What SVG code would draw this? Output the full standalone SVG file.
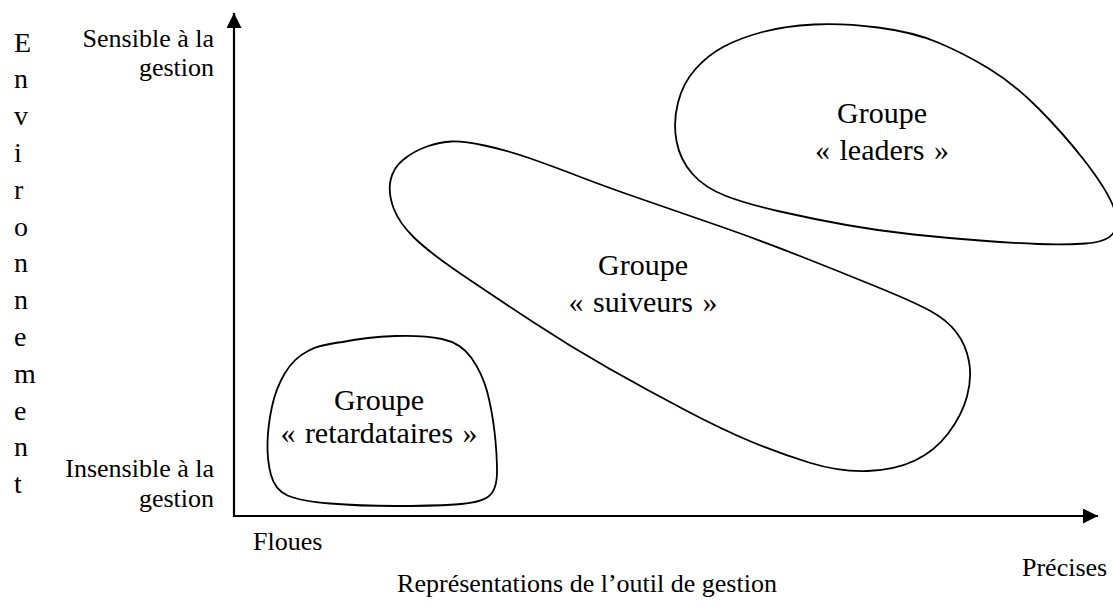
<svg xmlns="http://www.w3.org/2000/svg" width="1113" height="610" viewBox="0 0 1113 610">
<style>
text{font-family:"Liberation Serif","Times New Roman","DejaVu Serif",serif;fill:#000}
.lab{font-size:26px;text-anchor:end}
.vert{font-size:28px}
.grp{font-size:30px;text-anchor:middle}
.q{word-spacing:2px}
.blob{fill:none;stroke:#000;stroke-width:1.8}
.axis{fill:none;stroke:#000;stroke-width:2.2}
</style>
<defs>
<marker id="ah" markerWidth="16" markerHeight="16" refX="15" refY="7.5" orient="auto" markerUnits="userSpaceOnUse">
<path d="M0,0 L15,7.5 L0,15 Z" fill="#000"/>
</marker>
</defs>
<g id="vertical-title">
<text class="vert" x="14" y="51.5">E</text>
<text class="vert" x="14" y="88.3">n</text>
<text class="vert" x="14" y="125.1">v</text>
<text class="vert" x="14" y="161.9">i</text>
<text class="vert" x="14" y="198.7">r</text>
<text class="vert" x="14" y="235.5">o</text>
<text class="vert" x="14" y="272.3">n</text>
<text class="vert" x="14" y="309.1">n</text>
<text class="vert" x="14" y="345.9">e</text>
<text class="vert" x="14" y="382.7">m</text>
<text class="vert" x="14" y="419.5">e</text>
<text class="vert" x="14" y="456.3">n</text>
<text class="vert" x="14" y="493.1">t</text>
</g>
<g id="axis-labels">
<text class="lab" x="214" y="47">Sensible à la</text>
<text class="lab" x="214" y="76">gestion</text>
<text class="lab" x="214" y="477">Insensible à la</text>
<text class="lab" x="214" y="507">gestion</text>
<text x="253" y="550" font-size="26">Floues</text>
<text x="1022" y="576" font-size="26">Précises</text>
<text x="587" y="592" font-size="26" text-anchor="middle">Représentations de l’outil de gestion</text>
</g>
<g id="connectors">
<line class="axis" x1="234" y1="517" x2="234" y2="13" marker-end="url(#ah)"/>
<line class="axis" x1="233" y1="516" x2="1098" y2="516" marker-end="url(#ah)"/>
</g>
<g id="groupe-leaders">
<path class="blob" d="M 814,24.5 Q 843,23 878,27.5 Q 913,32 938,42.5 Q 963,53 988,68 Q 1013,83 1038,108 Q 1063,133 1084,160 Q 1105,187 1112.5,204.5 Q 1120,222 1114,232 Q 1108,242 1085.5,243.5 Q 1063,245 1038,244 Q 1013,243 980,240.5 Q 947,238 913.5,234.5 Q 880,231 846.5,225 Q 813,219 780,211.5 Q 747,204 726,196 Q 705,188 692.5,174 Q 680,160 676.5,141 Q 673,122 678,102.5 Q 683,83 695.5,69 Q 708,55 724,46.5 Q 740,38 762.5,32 Q 785,26 814,24.5 Z"/>
<text class="grp" x="882" y="123">Groupe</text>
<text class="grp q" x="882" y="160">« leaders »</text>
</g>
<g id="groupe-suiveurs">
<path class="blob" d="M 451.5,141.5 Q 463,141 484.5,145.5 Q 506,150 529,158 Q 552,166 580.5,177 Q 609,188 647,201 Q 685,214 723.5,227.5 Q 762,241 800,256 Q 838,271 876,286.5 Q 914,302 930.5,311 Q 947,320 956.5,332.5 Q 966,345 969,361.5 Q 972,378 967,396.5 Q 962,415 948.5,433 Q 935,451 915,460.5 Q 895,470 867.5,471 Q 840,472 810.5,463 Q 781,454 752,442 Q 723,430 685,410 Q 647,390 609,368.5 Q 571,347 533,322 Q 495,297 462.5,275 Q 430,253 414.5,238 Q 399,223 393.5,208 Q 388,193 390.5,180.5 Q 393,168 403.5,159.5 Q 414,151 427,146.5 Q 440,142 451.5,141.5 Z"/>
<text class="grp" x="643" y="275">Groupe</text>
<text class="grp q" x="643" y="312">« suiveurs »</text>
</g>
<g id="groupe-retardataires">
<path class="blob" d="M 342.5,342 Q 367,337 395,336 Q 423,335 442,339 Q 461,343 471.5,358 Q 482,373 487,391 Q 492,410 494.5,431.5 Q 497,453 497,471.5 Q 497,490 488.5,496.5 Q 480,503 455,504.5 Q 430,506 395,506 Q 360,506 330,503.5 Q 300,501 287.5,495.5 Q 275,490 271,475 Q 267,460 267.5,442.5 Q 268,425 272,406.5 Q 276,388 285,373 Q 294,358 308,351 Q 318,345 342.5,342 Z"/>
<text class="grp" x="379" y="410">Groupe</text>
<text class="grp q" x="379" y="443">« retardataires »</text>
</g>
</svg>
